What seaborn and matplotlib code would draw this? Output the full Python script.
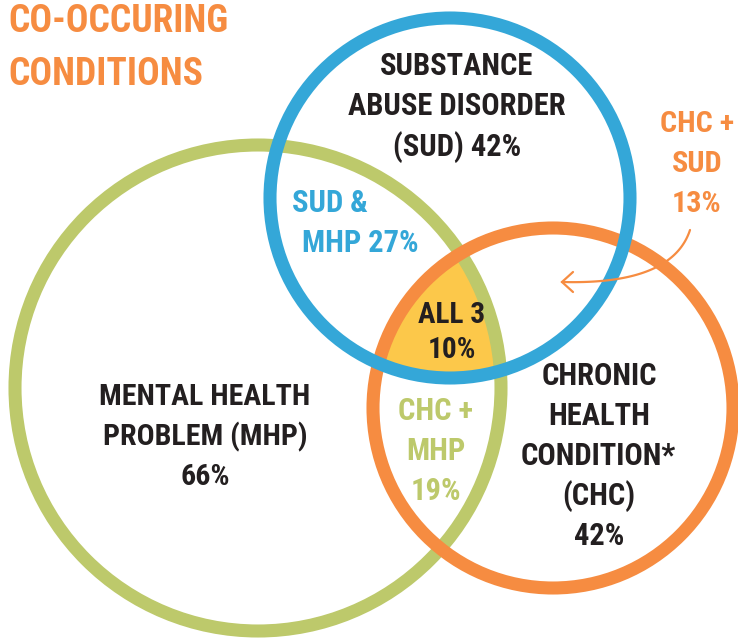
import numpy as np
import matplotlib
matplotlib.use("Agg")
import matplotlib.pyplot as plt
from matplotlib import font_manager as fm
import seaborn as sns
import pandas as pd
from matplotlib.patches import Circle, Polygon

# ---- data ----
sets = ["MHP", "SUD", "CHC"]
set_title_lines = [["MENTAL HEALTH", "PROBLEM (MHP)", "66%"],
                   ["SUBSTANCE", "ABUSE DISORDER", "(SUD) 42%"],
                   ["CHRONIC", "HEALTH", "CONDITION*", "(CHC)", "42%"]]
set_pcts = [66, 42, 42]
pair_label_lines = [["SUD &", "MHP 27%"], ["CHC +", "MHP", "19%"], ["CHC +", "SUD", "13%"]]
pair_pcts = [27, 19, 13]
all3_lines = ["ALL 3", "10%"]
all3_pct = 10
title_lines = ["CO-OCCURING", "CONDITIONS"]

# ---- layout (pixel space) ----
centers = {"MHP": (258, 388), "SUD": (450, 198), "CHC": (553, 408)}
radii = {"MHP": 243, "SUD": 180, "CHC": 180}
colors = {"MHP": "#BDC96B", "SUD": "#34A7D8", "CHC": "#F68C41"}
YELLOW = "#FCC84A"
INK = "#231F20"

sns.set_theme(style="white")

# pick the narrowest suitable bold family available
names = {f.name for f in fm.fontManager.ttflist}
stretch = "normal"
family = None
for cand in ["Roboto Condensed", "Liberation Sans Narrow", "Open Sans Condensed",
             "Noto Sans Condensed", "DejaVu Sans Condensed", "Arial Narrow"]:
    if cand in names:
        family = cand
        break
if family is None:
    dv_cond = [f for f in fm.fontManager.ttflist
               if f.name == "DejaVu Sans" and "condensed" in str(f.stretch).lower()]
    if dv_cond:
        family, stretch = "DejaVu Sans", "condensed"
if family is None:
    family = "Roboto" if "Roboto" in names else "DejaVu Sans"
plt.rcParams["font.family"] = [family, "DejaVu Sans"]
WEIGHT = "heavy"

W, H = 738, 642
fig = plt.figure(figsize=(W / 100, H / 100), dpi=100)
ax = fig.add_axes([0, 0, 1, 1])
ax.set_xlim(0, W)
ax.set_ylim(H, 0)
ax.set_aspect("equal")
ax.axis("off")

# yellow triple intersection
def circ_pts(c, r, n=2000):
    t = np.linspace(0, 2 * np.pi, n, endpoint=False)
    return np.c_[c[0] + r * np.cos(t), c[1] + r * np.sin(t)]

pts = []
for s in sets:
    p = circ_pts(centers[s], radii[s])
    mask = np.ones(len(p), bool)
    for o in sets:
        if o == s:
            continue
        mask &= np.hypot(p[:, 0] - centers[o][0], p[:, 1] - centers[o][1]) <= radii[o]
    pts.append(p[mask])
pts = np.vstack(pts)
cen = pts.mean(axis=0)
order = np.argsort(np.arctan2(pts[:, 1] - cen[1], pts[:, 0] - cen[0]))
ax.add_patch(Polygon(pts[order], closed=True, facecolor=YELLOW, edgecolor="none", zorder=1))

LW = 9.4
for z, s in zip([2, 3, 4], ["MHP", "CHC", "SUD"]):
    ax.add_patch(Circle(centers[s], radii[s], fill=False, edgecolor=colors[s], linewidth=LW, zorder=z))

# arrow (quadratic curve)
P0, P1, P2 = np.array([690, 230]), np.array([672, 285]), np.array([562, 282])
t = np.linspace(0, 1, 60)[:, None]
curve = (1 - t) ** 2 * P0 + 2 * (1 - t) * t * P1 + t ** 2 * P2
arrow_df = pd.DataFrame({"x": curve[:, 0], "y": curve[:, 1]})
sns.lineplot(data=arrow_df, x="x", y="y", sort=False, color=colors["CHC"], linewidth=1.6, ax=ax, zorder=5)
ax.plot([573, 562, 573], [272, 282, 292], color=colors["CHC"], linewidth=1.6, zorder=5,
        solid_capstyle="round", solid_joinstyle="miter")
ax.set_xlim(0, W)
ax.set_ylim(H, 0)
ax.set_xlabel("")
ax.set_ylabel("")

groups = []

def add_group(lines, xs, baselines, color, fs, maxw, ha="center"):
    arts = []
    for ln, x, b in zip(lines, xs, baselines):
        arts.append(ax.text(x, b, ln, color=color, fontweight=WEIGHT, fontsize=fs,
                            fontstretch=stretch, ha=ha, va="baseline", zorder=6))
    groups.append((arts, fs, maxw))

FS = 22
add_group(set_title_lines[0], [205] * 3, [405, 445, 485], INK, FS, 210)
add_group(set_title_lines[1], [457] * 3, [75, 115, 156], INK, FS, 218)
add_group(set_title_lines[2], [599, 599, 598, 599, 599], [385, 425, 465, 505, 545], INK, FS, 159)
add_group(all3_lines, [452, 452], [323, 358], INK, FS, 67)
add_group(pair_label_lines[0], [292, 302], [212, 252], colors["SUD"], FS, 123, ha="left")
add_group(pair_label_lines[1], [436] * 3, [420, 460, 500], colors["MHP"], FS, 75)
add_group(pair_label_lines[2], [697] * 3, [132, 172, 212], colors["CHC"], FS, 74)
add_group(title_lines, [8, 8], [32, 85], colors["CHC"], 27, 234, ha="left")

fig.canvas.draw()
r = fig.canvas.get_renderer()
for arts, fs, maxw in groups:
    w = max(a.get_window_extent(r).width for a in arts)
    if w > maxw:
        for a in arts:
            a.set_fontsize(fs * maxw / w)

fig.savefig("out.png", dpi=100, facecolor="white")
